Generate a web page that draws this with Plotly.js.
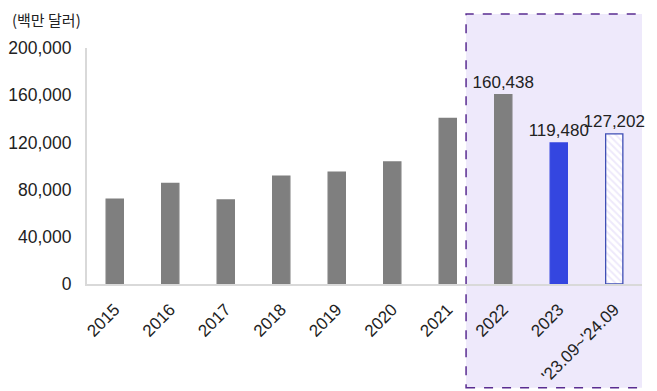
<!DOCTYPE html>
<html><head><meta charset="utf-8">
<script src="https://cdn.plot.ly/plotly-3.0.1.min.js"></script>
<style>body{margin:0;background:#fff}#c{width:657px;height:391px}</style>
</head><body><div id="c"></div>
<script>
const categories = ["2015","2016","2017","2018","2019","2020","2021","2022","2023","'23.09~'24.09"];
const values = [72000, 85300, 71200, 91500, 94700, 103400, 140400, 160438, 119480, 127202];
const labels = ["","","","","","","","160,438","119,480","127,202"];
const yTicks = [0, 40000, 80000, 120000, 160000, 200000];

const fills = ["#7f7f7f","#7f7f7f","#7f7f7f","#7f7f7f","#7f7f7f","#7f7f7f","#7f7f7f","#7f7f7f","#3446e0","#ffffff"];
const lines = fills.map((c,i)=> i===9 ? "#3f4fb5" : c);
const shapes = fills.map((c,i)=> i===9 ? "\\" : "");

const trace = {
  type: "bar", x: categories, y: values, text: labels,
  textposition: "outside", constraintext: "none", cliponaxis: false,
  textfont: {family: "Liberation Sans, Arial, sans-serif", size: 17, color: "#222"},
  marker: {color: fills, line: {color: lines, width: 1.3},
    pattern: {shape: shapes, fgcolor: "#1e2458", fgopacity: 1, bgcolor: "#ffffff", size: 5, solidity: 0.6}},
  hoverinfo: "skip"
};

const layout = {
  width: 657, height: 391,
  margin: {l: 87, r: 15, t: 48, b: 107},
  paper_bgcolor: "#ffffff", plot_bgcolor: "rgba(0,0,0,0)",
  bargap: 0.69, showlegend: false,
  font: {family: "Liberation Sans, Arial, sans-serif", size: 17, color: "#222"},
  xaxis: {type: "category", range: [-0.5, 9.5], autorange: false, automargin: false,
    showline: true, linecolor: "#d9d9d9", linewidth: 2,
    ticks: "", tickangle: -45, showgrid: false, ticklabelstandoff: 7, tickfont: {size: 17, color: "#222"}},
  yaxis: {range: [0, 200000], tickvals: yTicks, tickformat: ",d", automargin: false,
    showline: true, linecolor: "#d9d9d9", linewidth: 2, showgrid: false, zeroline: false, ticks: "",
    ticklabelstandoff: 10, tickfont: {size: 17.5, color: "#222"}},
  shapes: [{type: "rect", layer: "below", xref: "x", yref: "paper",
    x0: 6.33, x1: 9.68, y0: -0.44, y1: 1.144, fillcolor: "#eee9fb",
    line: {color: "#5a2d91", width: 1.5, dash: "dash"}}],
  annotations: [{text: "(백만 달러)", xref: "paper", yref: "paper",
    x: -0.139, y: 1.119, xanchor: "left", yanchor: "middle", showarrow: false,
    font: {family: "Noto Sans CJK KR, sans-serif", size: 15, color: "#222"}}]
};

Plotly.newPlot("c", [trace], layout, {displayModeBar: false, staticPlot: true});
</script>
</body></html>
